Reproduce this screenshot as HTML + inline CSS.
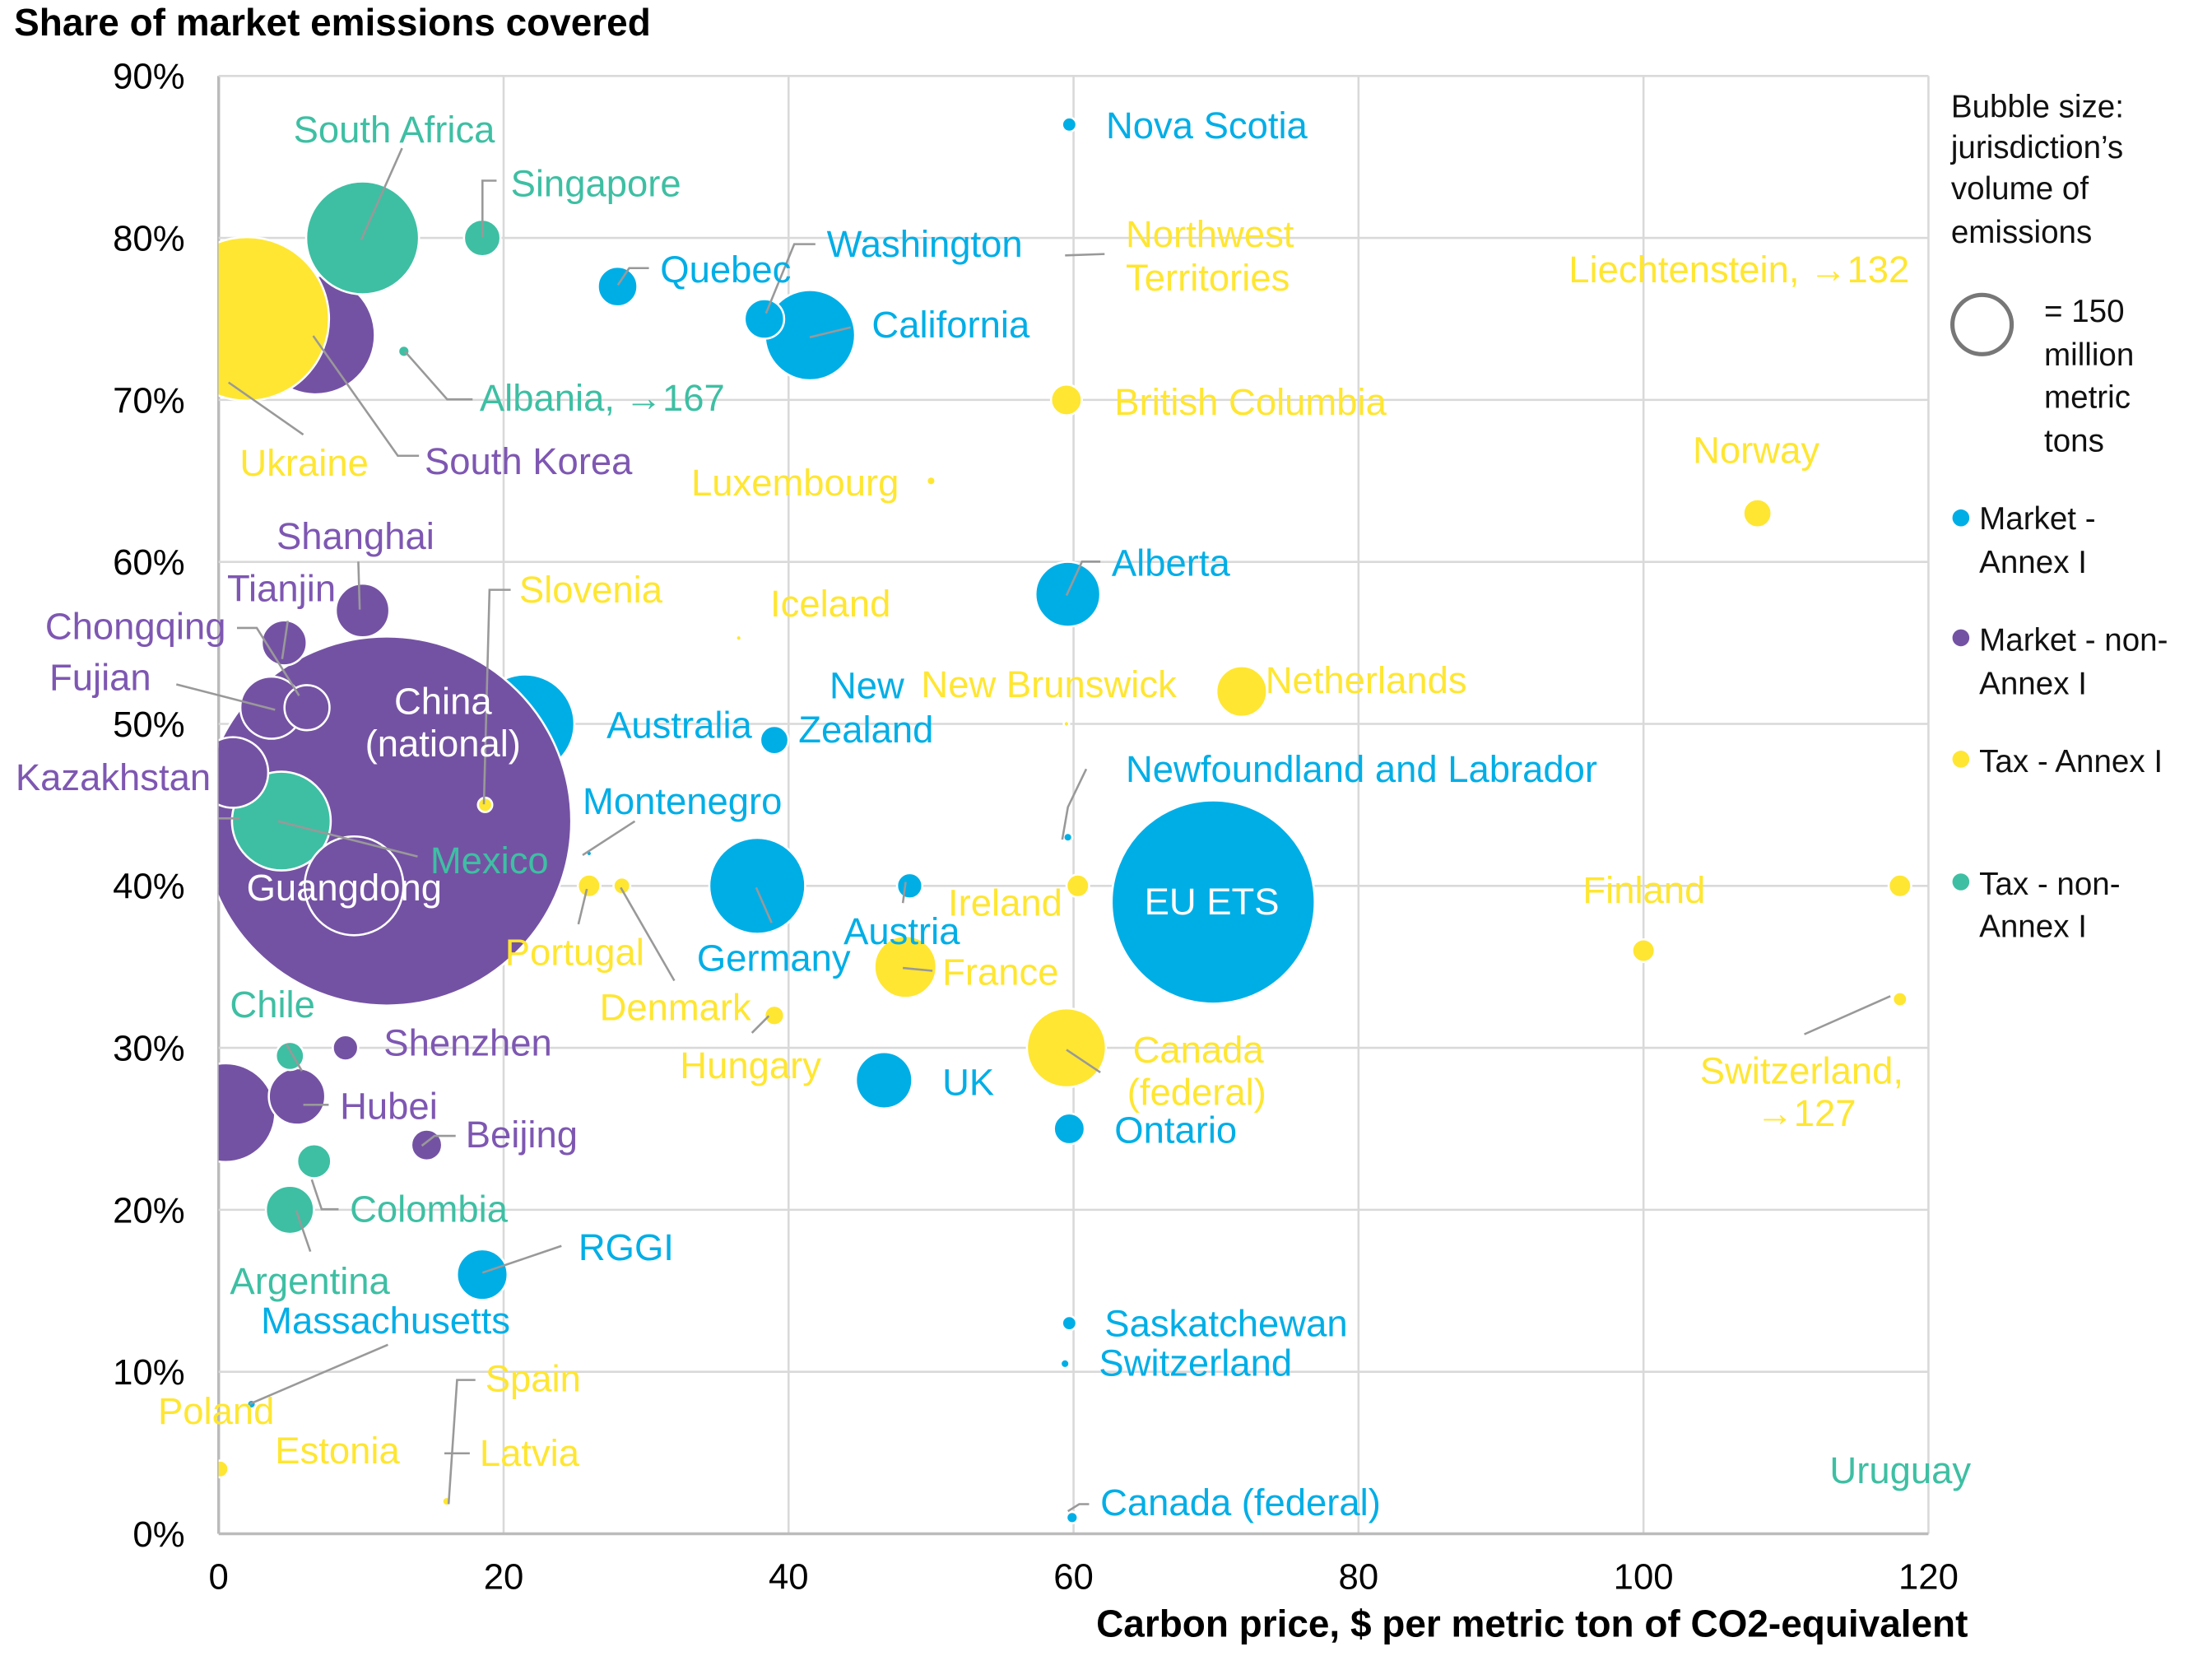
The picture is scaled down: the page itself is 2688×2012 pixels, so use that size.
<!DOCTYPE html>
<html><head><meta charset="utf-8"><style>
html,body{margin:0;padding:0;background:#fff;}
svg{display:block;font-family:"Liberation Sans",Arial,sans-serif;}
</style></head><body>
<svg id="chart" width="2688" height="2012" viewBox="0 0 1568 1173.6" xmlns="http://www.w3.org/2000/svg">
<defs><clipPath id="plotclip"><rect x="155" y="0" width="1300" height="1087"/></clipPath></defs>
<g id="grid"></g>
<g id="bubbles" clip-path="url(#plotclip)"></g>
<g id="leaders"></g>
<g id="labels"></g>
<text x="10" y="25" font-size="26.8" font-weight="bold">Share of market emissions covered</text>
<text x="1395" y="1160" font-size="26.8" font-weight="bold" text-anchor="end">Carbon price, $ per metric ton of CO2-equivalent</text>
<g font-size="22.5" fill="#111">
<text x="1383" y="83">Bubble size:</text>
<text x="1383" y="112">jurisdiction’s</text>
<text x="1383" y="141">volume of</text>
<text x="1383" y="172">emissions</text>
<circle cx="1405" cy="230" r="21" fill="none" stroke="#777" stroke-width="3"/>
<text x="1449" y="228">= 150</text>
<text x="1449" y="259">million</text>
<text x="1449" y="289">metric</text>
<text x="1449" y="320">tons</text>
<circle cx="1390" cy="367" r="6" fill="#00AEE6"/>
<text x="1403" y="375">Market -</text><text x="1403" y="406">Annex I</text>
<circle cx="1390" cy="452" r="6" fill="#7452A3"/>
<text x="1403" y="461">Market - non-</text><text x="1403" y="492">Annex I</text>
<circle cx="1390" cy="538" r="6" fill="#FFE632"/>
<text x="1403" y="547">Tax - Annex I</text>
<circle cx="1390" cy="625" r="6" fill="#3EBFA3"/>
<text x="1403" y="634">Tax - non-</text><text x="1403" y="664">Annex I</text>
</g>
</svg>
<script>
const xTicks=[0,20,40,60,80,100,120];
const yTicks=[0,10,20,30,40,50,60,70,80,90];
const names=["Australia","China (national)","Kazakhstan-2","South Korea","Ukraine","South Africa","EU ETS","Mexico","Guangdong","Kazakhstan","Germany","California","Canada (federal) tax","Alberta","Fujian","France","UK","Hubei","Shanghai","RGGI","Netherlands","Argentina","Tianjin","Chongqing","Quebec","Washington","Singapore","Colombia","British Columbia","Ontario","Beijing","New Zealand","Norway","Chile","Austria","Shenzhen","Ireland","Finland","Portugal","Tax 118","Hungary","Denmark","Estonia","Nova Scotia","Saskatchewan","Switzerland tax","Slovenia","Albania","Canada (federal)","Luxembourg","Newfoundland","Switzerland","Massachusetts","Latvia","Iceland","New Brunswick","Montenegro"];
const prices=[21.5,11.8,0.5,6.8,2,10.1,69.8,4.4,9.5,1,37.8,41.5,59.5,59.6,3.7,48.2,46.7,5.5,10.1,18.5,71.8,5,4.6,6.2,28,38.3,18.5,6.7,59.5,59.7,14.6,39,108,5,48.5,8.9,60.3,100,26,118,39,28.3,0.1,59.7,59.7,118,18.7,13,59.9,50,59.6,59.4,2.3,16,36.5,59.5,26];
const shares=[50,44,26,74,75,80,39,44,40,47,40,74,30,58,51,35,28,27,57,16,52,20,55,51,77,75,80,23,70,25,24,49,63,29.5,40,30,40,36,40,40,32,40,4,87,13,33,45,73,1,65,43,10.5,8,2,55.3,50,42];
const volumes=[380,5300,380,547,1043,496,1607,380,380,194,358,317,243,164,150,150,124,124,112,100,100,90,79,79,61,61,52,45,37,37,37,31,31,31,25,25,20,20,20,20,15,11,11,8,8,8,8,5,5,3,3,3,3,3,1.2,1.2,1.2];
const cats=["M1","M2","M2","M2","T1","T2","M1","T2","M2","M2","M1","M1","T1","M1","M2","T1","M1","M2","M2","M1","T1","T2","M2","M2","M1","M1","T2","T2","T1","M1","M2","M1","T1","T2","M1","M2","T1","T1","T1","T1","T1","T1","T1","M1","M1","T1","T1","T2","M1","T1","M1","M1","M1","T1","T1","T1","M1"];
const colors={M1:"#00AEE6",M2:"#7452A3",T1:"#FFE632",T2:"#3EBFA3"};
const NS="http://www.w3.org/2000/svg";
function sx(v){return 155+v*10.1;}
function sy(p){return 1087-p*11.48;}
function sr(v){return 22*Math.sqrt(v/150);}
function mk(tag,parent){const e=document.createElementNS(NS,tag);parent.appendChild(e);return e;}
const grid=document.getElementById('grid');
xTicks.forEach(t=>{
  const l=mk('line',grid);
  
  
  l.setAttribute('x1',sx(t));l.setAttribute('x2',sx(t));l.setAttribute('y1',sy(90));l.setAttribute('y2',sy(0));
  l.setAttribute('stroke',t===0?'#bbb':'#d9d9d9');l.setAttribute('stroke-width',t===0?2:1.5);
  const tx=mk('text',grid);
  
  
  tx.setAttribute('x',sx(t));tx.setAttribute('y',1126);tx.setAttribute('font-size','25.5');tx.setAttribute('text-anchor','middle');
  tx.textContent=t;
});
yTicks.forEach(t=>{
  const l=mk('line',grid);
  
  
  l.setAttribute('x1',sx(0));l.setAttribute('x2',sx(120));l.setAttribute('y1',sy(t));l.setAttribute('y2',sy(t));
  l.setAttribute('stroke',t===0?'#bbb':'#d9d9d9');l.setAttribute('stroke-width',t===0?2:1.5);
  const tx=mk('text',grid);
  
  
  tx.setAttribute('x',131);tx.setAttribute('y',sy(t)+9);tx.setAttribute('font-size','25.5');tx.setAttribute('text-anchor','end');
  tx.textContent=t+'%';
});
let order=names.map((n,i)=>i).filter(i=>i>1).sort((a,b)=>volumes[b]-volumes[a]);
const ui=names.indexOf("Ukraine"), ki=names.indexOf("South Korea");
order=order.filter(i=>i!==ui);
order.splice(order.indexOf(ki)+1,0,ui);
order=[0,1].concat(order);
const bg=document.getElementById('bubbles');
order.forEach(i=>{
  const n=names[i];
  const c=mk('circle',bg);
  
  
  c.setAttribute('cx',sx(prices[i]));c.setAttribute('cy',sy(shares[i]));c.setAttribute('r',sr(volumes[i]));
  c.setAttribute('fill',colors[cats[i]]);c.setAttribute('stroke','#fff');c.setAttribute('stroke-width',1.5);
});
const labelDefs=[
["Nova Scotia",784,98,"M1"],["Quebec",468,200,"M1"],["Washington",586,182,"M1"],["California",618,239,"M1"],
["British Columbia",790,294,"T1"],["Northwest",798,175,"T1"],["Territories",798,206,"T1"],["Liechtenstein, →132",1112,200,"T1"],
["Alberta",788,408,"M1"],["Luxembourg",490,351,"T1"],["Norway",1200,328,"T1"],["Iceland",546,437,"T1"],
["New",588,495,"M1"],["Zealand",566,526,"M1"],["New Brunswick",653,494,"T1"],["Netherlands",897,491,"T1"],
["Australia",430,523,"M1"],["Newfoundland and Labrador",798,554,"M1"],["Montenegro",413,577,"M1"],
["Germany",494,688,"M1"],["Austria",598,669,"M1"],["Ireland",672,649,"T1"],["Finland",1122,640,"T1"],
["Switzerland,",1205,768,"T1"],["→127",1245,798,"T1"],["France",668,698,"T1"],["Portugal",358,684,"T1"],
["Denmark",425,723,"T1"],["Hungary",482,764,"T1"],["Canada",803,753,"T1"],["(federal)",799,783,"T1"],
["UK",668,776,"M1"],["Ontario",790,810,"M1"],["RGGI",410,893,"M1"],["Saskatchewan",783,947,"M1"],
["Switzerland",779,975,"M1"],["Canada (federal)",780,1074,"M1"],["Uruguay",1297,1051,"T2"],
["Massachusetts",185,945,"M1"],["Poland",112,1009,"T1"],["Estonia",195,1037,"T1"],["Spain",344,986,"T1"],["Latvia",340,1039,"T1"],
["South Korea",301,336,"M2"],["Ukraine",170,337,"T1"],["South Africa",208,101,"T2"],["Singapore",362,139,"T2"],
["Albania, →167",340,291,"T2"],["Shanghai",196,389,"M2"],["Tianjin",161,426,"M2"],["Chongqing",32,453,"M2"],
["Fujian",35,489,"M2"],["Kazakhstan",11,560,"M2"],["Mexico",305,619,"T2"],["Slovenia",368,427,"T1"],
["Chile",163,721,"T2"],["Shenzhen",272,748,"M2"],["Hubei",241,793,"M2"],["Beijing",330,813,"M2"],
["Colombia",248,866,"T2"],["Argentina",163,917,"T2"],
["China",314,506,"W"],["(national)",314,536,"W"],["EU ETS",859,648,"W"],["Guangdong",244,638,"W"]];
const lcol={M1:"#00AEE6",M2:"#7E57B2",T1:"#FFE632",T2:"#3EBFA3",W:"#fff"};
const lg=document.getElementById('labels');
labelDefs.forEach(d=>{
  const t=mk('text',lg);
  
  
  t.setAttribute('x',d[1]);t.setAttribute('y',d[2]);t.setAttribute('font-size','26.5');t.setAttribute('fill',lcol[d[3]]);
  if(d[3]==='W')t.setAttribute('text-anchor','middle');
  t.textContent=d[0];
});
const leaderDefs=[
"162,271 215,308","222,238 282,323 297,323","256,170 285,105","342,168 342,128 352,128","287,249 317,283 335,283",
"438,202 446,190 460,190","543,222 563,173 578,173","755,181 783,180","574,239 603,232","1279,733 1340,706",
"756,422 767,398 780,398","753,595 757,572 770,545","640,640 642,625","536,629 547,654","640,686 661,688",
"413,606 450,582","410,655 416,630","440,629 478,695","533,732 545,720","756,744 780,760",
"342,902 398,883","177,995 275,953","318,1066 324,978 337,978","315,1030 333,1030","757,1071 765,1066 772,1066",
"343,570 347,418 362,418","197,582 296,607","203,740 214,759","215,783 233,783","299,812 308,805 323,805","221,836 228,857 240,857",
"210,858 220,887","200,467 204,440","168,445 182,445 212,493","125,485 195,503","155,580 170,580","255,432 254,398"];
const lng=document.getElementById('leaders');
leaderDefs.forEach(p=>{
  const l=mk('polyline',lng);
  
  
  l.setAttribute('points',p);l.setAttribute('fill','none');l.setAttribute('stroke','#999');l.setAttribute('stroke-width',1.5);
});
</script>
</body></html>
